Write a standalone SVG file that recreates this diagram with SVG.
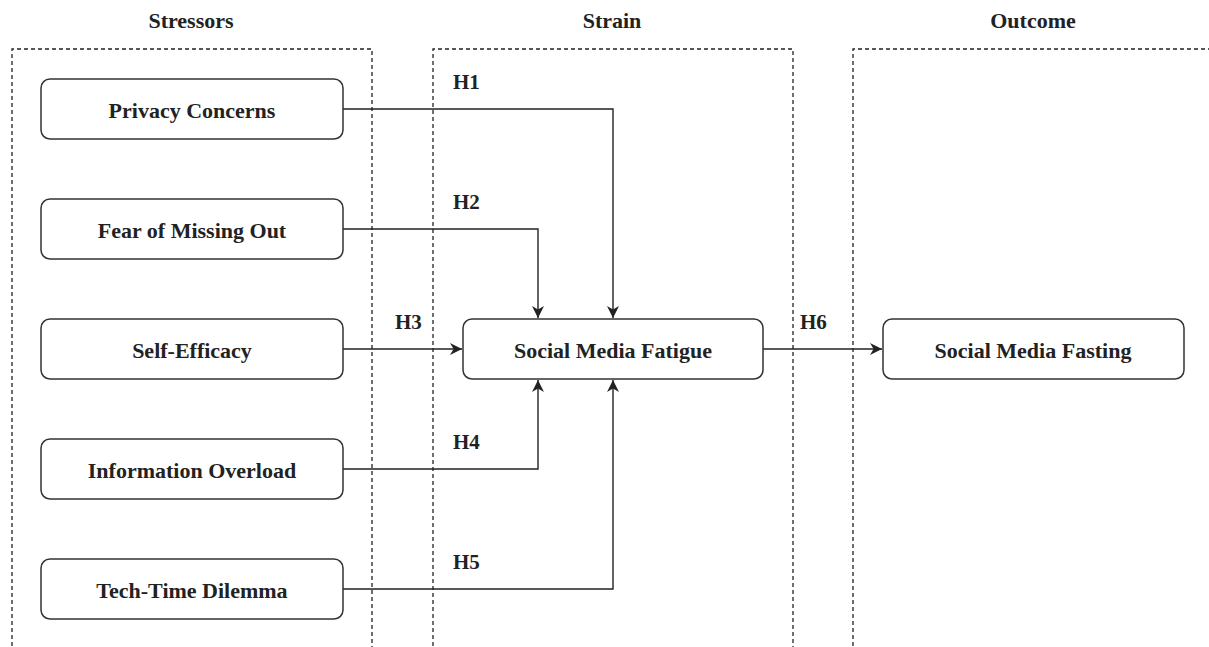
<svg xmlns="http://www.w3.org/2000/svg" width="1209" height="647" viewBox="0 0 1209 647">
<defs>
<style>
.lane{fill:none;stroke:#222;stroke-width:1.3;stroke-dasharray:4 3}
.node rect{fill:#fff;stroke:#333;stroke-width:1.5}
text{font-family:"Liberation Serif","Times New Roman",serif;font-weight:bold;fill:#222}
.t{font-size:22px;text-anchor:middle;dominant-baseline:central}
.h{font-size:22px;text-anchor:middle}
.lbl{font-size:21px}
.con path{fill:none;stroke:#222;stroke-width:1.4}
</style>
<marker id="arr" viewBox="0 0 10 10" refX="10" refY="5" markerWidth="12" markerHeight="12" markerUnits="userSpaceOnUse" orient="auto">
<path d="M0,0 L10,5 L0,10 L3,5 Z" fill="#222"/>
</marker>
</defs>
<rect width="1209" height="647" fill="#fff"/>
<g id="lanes">
<path class="lane" d="M12,660 V49 H372 V660"/>
<path class="lane" d="M433,660 V49 H793 V660"/>
<path class="lane" d="M853,660 V49 H1215"/>
<text class="h" x="191" y="28">Stressors</text>
<text class="h" x="612" y="28">Strain</text>
<text class="h" x="1033" y="28">Outcome</text>
</g>
<g id="connectors" class="con">
<path d="M343,109 H613 V318" marker-end="url(#arr)"/>
<path d="M343,229 H538 V318" marker-end="url(#arr)"/>
<path d="M343,349 H462" marker-end="url(#arr)"/>
<path d="M343,469 H538 V380" marker-end="url(#arr)"/>
<path d="M343,589 H613 V380" marker-end="url(#arr)"/>
<path d="M763,349 H882" marker-end="url(#arr)"/>
<text class="lbl" x="453" y="89">H1</text>
<text class="lbl" x="453" y="209">H2</text>
<text class="lbl" x="395" y="329">H3</text>
<text class="lbl" x="453" y="449">H4</text>
<text class="lbl" x="453" y="569">H5</text>
<text class="lbl" x="800" y="329">H6</text>
</g>
<g id="n-privacy" class="node"><rect x="41" y="79" width="302" height="60" rx="9"/><text class="t" x="192" y="110">Privacy Concerns</text></g>
<g id="n-fomo" class="node"><rect x="41" y="199" width="302" height="60" rx="9"/><text class="t" x="192" y="230">Fear of Missing Out</text></g>
<g id="n-self" class="node"><rect x="41" y="319" width="302" height="60" rx="9"/><text class="t" x="192" y="350">Self-Efficacy</text></g>
<g id="n-info" class="node"><rect x="41" y="439" width="302" height="60" rx="9"/><text class="t" x="192" y="470">Information Overload</text></g>
<g id="n-tech" class="node"><rect x="41" y="559" width="302" height="60" rx="9"/><text class="t" x="192" y="590">Tech-Time Dilemma</text></g>
<g id="n-fatigue" class="node"><rect x="463" y="319" width="300" height="60" rx="9"/><text class="t" x="613" y="350">Social Media Fatigue</text></g>
<g id="n-fasting" class="node"><rect x="883" y="319" width="301" height="60" rx="9"/><text class="t" x="1033" y="350">Social Media Fasting</text></g>
</svg>
